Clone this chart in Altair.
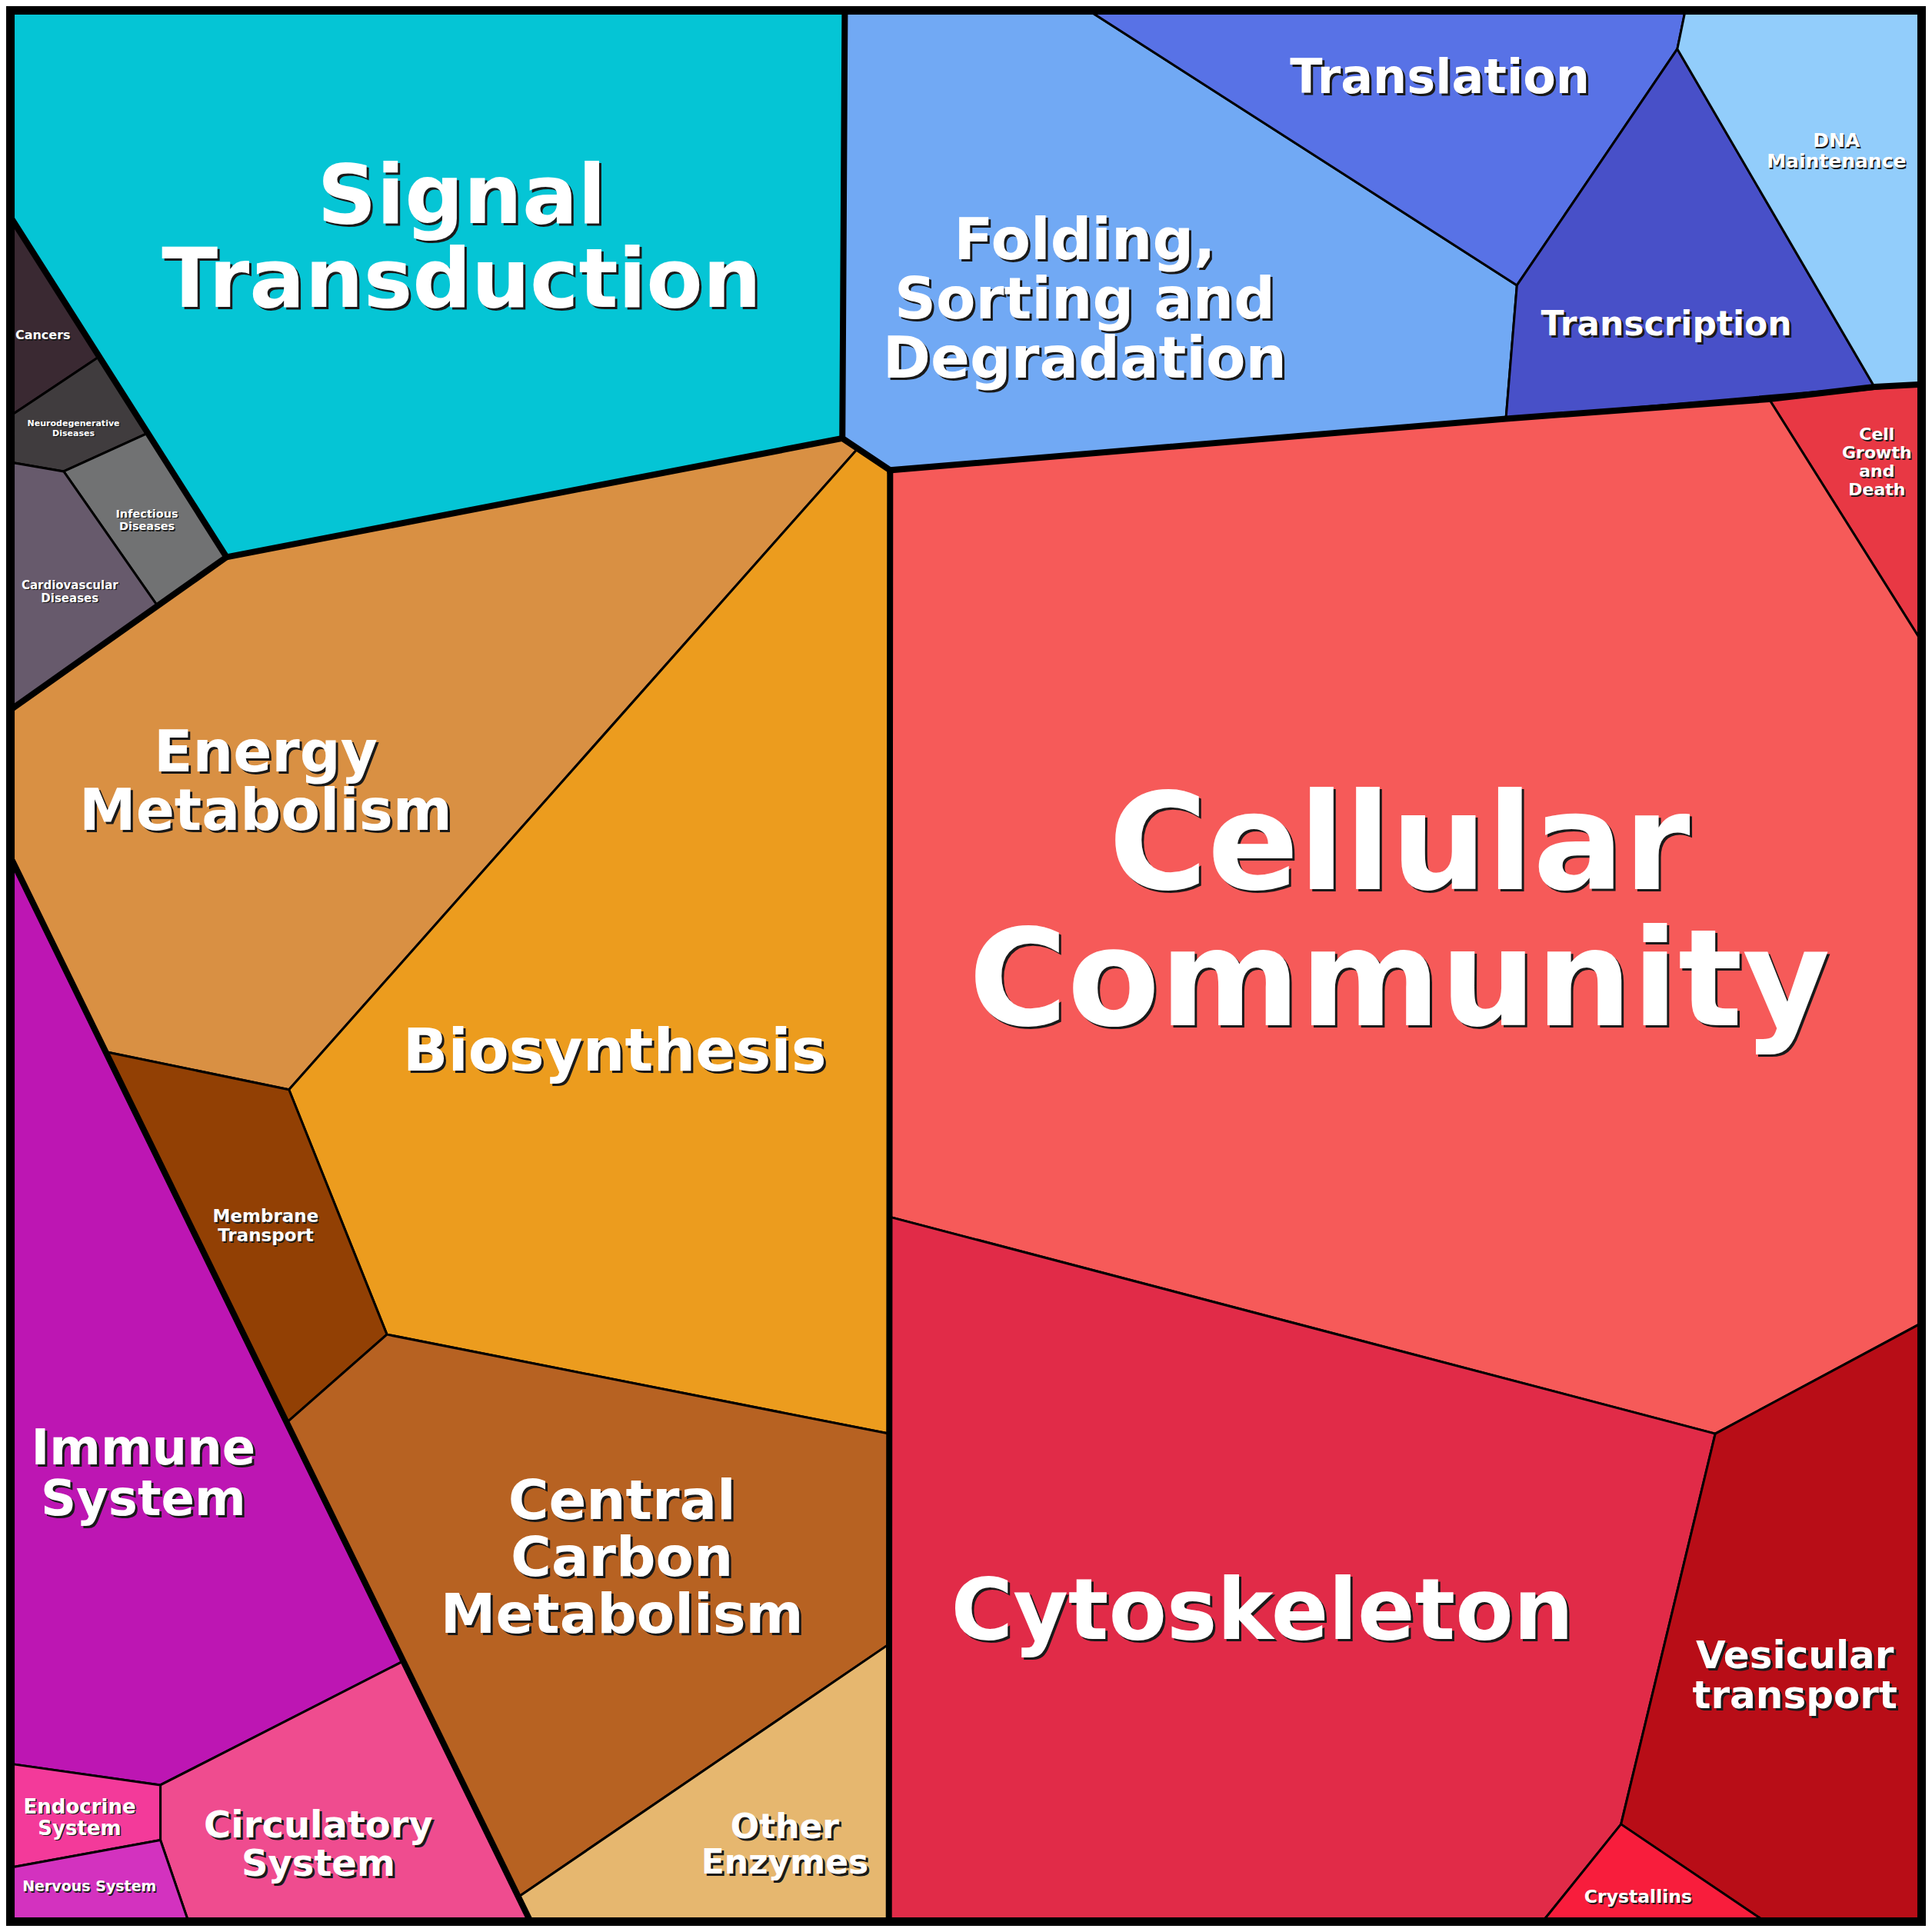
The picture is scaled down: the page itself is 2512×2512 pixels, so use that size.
import altair as alt
import pandas as pd

# ---------------- data (reference units: 0..1568 square, y down) ----------------
FRAME = [(0, 0), (1568, 0), (1568, 1568), (0, 1568)]

CELL_NAMES = [
    "Signal Transduction", "Cancers", "Neurodegenerative Diseases", "Infectious Diseases",
    "Cardiovascular Diseases", "Energy Metabolism", "Biosynthesis", "Membrane Transport",
    "Central Carbon Metabolism", "Other Enzymes", "Immune System", "Circulatory System",
    "Endocrine System", "Nervous System", "Folding, Sorting and Degradation", "Translation",
    "Transcription", "DNA Maintenance", "Cell Growth and Death", "Cellular Community",
    "Cytoskeleton", "Vesicular transport", "Crystallins",
]

CELL_COLORS = [
    "#05c5d5", "#3a2932", "#403c3e", "#717273", "#675a6c", "#d99043", "#ec9c1e", "#924004",
    "#b76222", "#e6b76f", "#bd16b3", "#ef4c8f", "#f33a9a", "#d332bf", "#71a9f4", "#5872e6",
    "#4850c8", "#92cdfb", "#e83844", "#f65a59", "#e12b48", "#b80d17", "#f81d3c",
]

CELL_POLYGONS = [
    [(6, 6), (685, 6), (683, 353), (180, 450), (6, 176)],
    [(6, 176), (75, 287), (6, 333)],
    [(6, 333), (75, 287), (115, 349), (47, 380), (6, 373)],
    [(47, 380), (115, 349), (180, 450), (123, 489)],
    [(6, 373), (47, 380), (123, 489), (6, 573)],
    [(6, 573), (180, 450), (683, 353), (695, 362), (231, 885), (81, 854), (6, 700)],
    [(695, 362), (722, 379), (721, 1166), (311, 1085), (231, 885)],
    [(81, 854), (231, 885), (311, 1085), (229, 1157)],
    [(229, 1157), (311, 1085), (721, 1166), (721, 1338), (419, 1544)],
    [(419, 1544), (721, 1338), (721, 1562), (427, 1562)],
    [(6, 700), (324, 1352), (126, 1453), (6, 1436)],
    [(126, 1453), (324, 1352), (427, 1562), (148, 1562), (126, 1498)],
    [(6, 1436), (126, 1453), (126, 1498), (6, 1520)],
    [(6, 1520), (126, 1498), (148, 1562), (6, 1562)],
    [(685, 6), (888, 6), (1234, 228), (1225, 337), (722, 379), (683, 353)],
    [(888, 6), (1371, 6), (1365, 35), (1234, 228)],
    [(1234, 228), (1365, 35), (1526, 311), (1225, 337)],
    [(1371, 6), (1562, 6), (1562, 309), (1526, 311), (1365, 35)],
    [(1440, 321), (1562, 309), (1562, 515)],
    [(722, 379), (1225, 337), (1440, 321), (1562, 515), (1562, 1077), (1396, 1166), (722, 989)],
    [(722, 989), (1396, 1166), (1319, 1485), (1257, 1562), (721, 1562)],
    [(1396, 1166), (1562, 1077), (1562, 1562), (1433, 1562), (1319, 1485)],
    [(1319, 1485), (1433, 1562), (1257, 1562)],
]

# group boundaries (drawn thicker)
GROUP_BORDERS = [
    [(6, 176), (180, 450), (683, 353)],
    [(685, 6), (683, 353), (722, 379), (721, 1562)],
    [(180, 450), (6, 573)],
    [(6, 700), (427, 1562)],
    [(722, 379), (1225, 337), (1440, 321), (1526, 311), (1562, 309)],
]

LABELS = [
    "Signal\nTransduction", "Cancers", "Neurodegenerative\nDiseases", "Infectious\nDiseases",
    "Cardiovascular\nDiseases", "Energy\nMetabolism", "Biosynthesis", "Membrane\nTransport",
    "Central\nCarbon\nMetabolism", "Other\nEnzymes", "Immune\nSystem", "Circulatory\nSystem",
    "Endocrine\nSystem", "Nervous System", "Folding,\nSorting and\nDegradation", "Translation",
    "Transcription", "DNA\nMaintenance", "Cell\nGrowth\nand\nDeath", "Cellular\nCommunity",
    "Cytoskeleton", "Vesicular\ntransport", "Crystallins",
]
# position of the first text line of each label
LABEL_X = [372, 30, 55, 115, 52, 212, 497, 212, 503, 636, 112, 255, 60, 68, 881, 1171,
           1356, 1495, 1528, 1138, 1026, 1461, 1333]
LABEL_Y = [157, 269, 341, 415, 473, 611, 855, 989, 1222, 1488, 1179, 1487, 1471, 1536, 192, 59,
           261, 110, 350, 688, 1313, 1348, 1545]
LABEL_SIZE = [107, 16, 11, 14.5, 15, 74, 77, 23, 72, 44, 64, 48, 26, 19, 75, 62,
              44, 25, 22, 175, 110, 50, 23.5]

# ---------------- build geo features ----------------
def poly_feature(pts, props):
    ring = [list(p) for p in pts] + [list(pts[0])]
    return {"type": "Feature", "geometry": {"type": "Polygon", "coordinates": [ring]},
            "properties": props}


def line_feature(pts):
    return {"type": "Feature",
            "geometry": {"type": "LineString", "coordinates": [list(p) for p in pts]},
            "properties": {}}


frame_data = alt.Data(values=[poly_feature(FRAME, {"name": "frame"})])
cell_data = alt.Data(values=[
    poly_feature(p, {"name": n, "color": c})
    for n, c, p in zip(CELL_NAMES, CELL_COLORS, CELL_POLYGONS)
])
border_data = alt.Data(values=[line_feature(b) for b in GROUP_BORDERS])

labels = pd.DataFrame({"label": LABELS, "x": LABEL_X, "y": LABEL_Y, "size": LABEL_SIZE})

proj = alt.Projection(type="identity")

frame = alt.Chart(frame_data).mark_geoshape(fill="black", stroke="black", strokeWidth=0)

cells = alt.Chart(cell_data).mark_geoshape(stroke="black", strokeWidth=3, strokeJoin="round").encode(
    fill=alt.Fill("properties.color:N", scale=None)
)

borders = alt.Chart(border_data).mark_geoshape(
    filled=False, stroke="black", strokeWidth=8, strokeJoin="round", strokeCap="square"
)

text_common = dict(font="DejaVu Sans", fontWeight="bold", lineBreak="\n",
                   align="center", baseline="middle")

enc = dict(longitude="x:Q", latitude="y:Q", text="label:N",
           size=alt.Size("size:Q", scale=None))

shadow_big = alt.Chart(labels).transform_filter("datum.size >= 40").mark_text(
    color="#1a1a1a", dx=3, dy=3, **text_common).encode(**enc)
shadow_small = alt.Chart(labels).transform_filter("datum.size < 40").mark_text(
    color="#1a1a1a", dx=1.5, dy=1.5, **text_common).encode(**enc)
text = alt.Chart(labels).mark_text(color="white", **text_common).encode(**enc)

chart = alt.layer(frame, cells, borders, shadow_big, shadow_small, text).properties(
    width=2496, height=2496, projection=proj, padding=0, autosize="none"
).configure_view(stroke=None)

chart.save("out.html", embed_options={"renderer": "svg", "actions": False})
